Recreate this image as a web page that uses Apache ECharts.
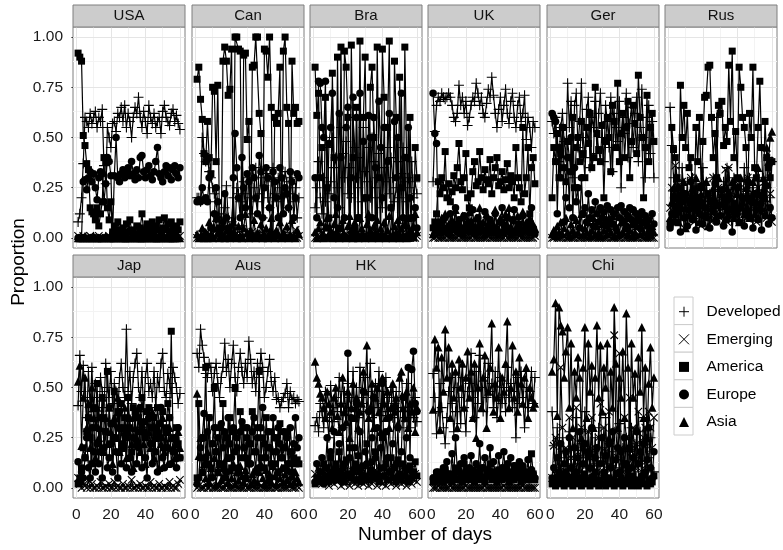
<!DOCTYPE html>
<html>
<head>
<meta charset="utf-8">
<script src="https://cdn.jsdelivr.net/npm/echarts@6/dist/echarts.min.js"></script>
<style>html,body{margin:0;padding:0;background:#fff}#chart{width:783px;height:550px}</style>
</head>
<body>
<div id="chart"></div>
<script>
// proportions in percent, day 1..60
const usaDev = [8,12,20,37,60,58,55,62,57,60,63,55,60,58,64,36,27,55,50,45,57,58,53,62,60,65,58,66,55,62,58,50,60,65,62,70,60,55,63,58,52,66,60,57,62,55,58,60,52,63,66,60,58,56,62,64,58,61,57,54];
const usaEme = [1,0,0,1,0,0,0,1,0,0,0,0,1,0,0,0,0,0,1,0,0,0,0,0,1,0,0,0,0,0,0,1,0,0,0,0,0,0,0,1,0,0,0,0,0,0,1,0,0,0,0,0,0,0,1,0,0,0,0,1];
const usaAme = [92,90,88,51,46,37,34,15,13,12,9,15,6,12,18,40,38,15,9,18,3,6,2,8,4,3,5,2,7,3,9,4,3,1,6,2,5,12,3,4,7,2,5,8,3,6,4,9,2,5,10,4,7,3,8,5,2,6,4,8];
const usaEur = [0,0,0,28,29,24,30,33,28,32,25,19,30,33,32,18,27,40,38,31,2,31,50,30,28,32,34,30,33,35,31,38,32,29,34,30,40,41,33,30,34,36,31,29,33,38,45,32,30,28,33,36,31,35,29,34,36,32,30,35];
const usaAsi = [0,0,0,0,1,0,0,0,0,1,0,0,0,0,0,0,1,0,0,0,0,0,0,1,0,0,0,0,0,0,0,0,1,0,0,0,0,0,0,0,0,1,0,0,0,0,0,0,0,0,1,0,0,0,0,0,0,0,1,0];

const canDev = [20,20,18,50,42,38,40,33,30,25,22,18,10,8,12,6,15,26,10,5,8,20,3,25,22,18,6,28,22,15,30,20,12,25,35,18,22,30,10,26,32,20,15,28,35,22,18,30,25,12,20,33,28,15,22,30,18,25,10,20];
const canEme = [0,1,0,2,0,0,3,0,1,0,0,0,2,0,0,1,0,0,0,4,0,1,0,0,0,2,0,0,1,0,0,0,3,0,0,1,0,0,2,0,0,0,1,0,3,0,0,0,1,0,0,2,0,0,0,1,0,4,0,1];
const canAme = [79,85,69,59,42,38,58,40,32,75,73,38,76,5,0,88,95,88,71,74,94,0,100,100,94,93,0,91,92,49,58,0,85,86,100,100,62,52,0,94,93,80,100,65,0,60,57,62,85,0,93,100,65,57,0,88,62,65,57,58];
const canEur = [18,19,18,25,19,20,18,30,5,0,12,25,18,3,0,8,22,10,5,2,0,30,52,35,20,10,40,25,15,32,28,0,35,30,20,12,41,33,10,25,35,30,15,0,33,28,20,10,35,30,12,25,22,15,33,28,10,20,32,30];
const canAsi = [2,0,1,5,0,3,0,8,2,0,5,10,3,0,2,6,0,4,1,0,3,8,2,0,6,1,0,5,12,3,0,4,2,9,0,3,1,7,0,2,5,0,3,10,1,0,4,2,8,0,3,1,6,0,2,9,1,0,4,2];

const braDev = [15,25,38,20,12,30,18,45,22,28,50,35,40,25,15,55,42,30,48,22,35,20,60,45,30,25,40,18,55,33,28,45,20,50,38,25,30,42,20,15,35,28,45,22,40,30,18,25,38,20,32,45,28,18,30,25,38,20,28,22];
const braEme = [0,1,0,0,2,0,0,1,0,0,0,3,0,0,1,0,0,0,2,0,0,1,0,0,0,0,2,0,1,0,0,0,0,3,0,0,1,0,0,0,2,0,0,0,1,0,0,0,0,2,0,1,0,0,0,0,3,0,0,1];
const braAme = [85,61,72,30,45,0,70,25,10,0,82,40,0,90,5,95,0,93,85,60,0,96,40,0,65,10,98,0,60,90,20,0,75,85,50,0,95,30,0,94,70,0,55,98,15,0,88,60,0,80,25,0,95,40,0,60,10,0,45,30];
const braEur = [30,10,78,77,55,50,78,5,47,55,72,20,0,15,62,40,0,10,55,65,0,30,70,5,60,10,72,0,48,20,0,61,50,10,60,35,0,68,45,20,55,0,38,62,15,0,58,30,50,0,72,10,40,0,55,20,0,10,15,5];
const braAsi = [3,0,5,8,2,0,6,10,1,4,0,7,12,3,0,5,9,2,0,6,11,4,0,8,3,0,10,5,2,0,7,12,4,0,6,3,9,0,5,2,8,0,4,11,1,0,6,3,9,0,5,2,7,0,10,4,1,6,12,3];

const ukDev = [28,53,66,70,68,72,70,69,70,72,70,66,60,58,62,76,66,70,62,68,56,60,66,70,68,77,72,66,70,62,60,67,74,70,80,71,62,55,64,70,58,66,74,62,57,68,72,60,55,66,70,58,62,71,49,60,55,45,58,55];
const ukEme = [0,0,1,0,0,0,0,0,1,0,0,0,0,0,0,1,0,0,0,0,0,0,0,1,0,0,0,0,0,0,0,0,1,0,0,0,0,0,0,0,0,0,1,0,0,0,0,0,0,0,1,0,0,0,0,0,0,0,0,1];
const ukAme = [5,8,12,28,22,30,25,43,20,27,18,23,31,25,35,47,28,24,30,42,20,15,22,33,38,26,28,43,30,24,34,29,27,39,22,30,35,40,26,28,33,24,29,37,25,31,28,20,45,30,25,18,55,22,30,45,12,35,40,27];
const ukEur = [72,52,47,6,4,8,3,10,5,2,12,4,7,15,3,9,5,2,11,4,6,3,8,14,2,5,10,3,7,4,13,2,6,9,3,5,12,4,2,8,15,3,6,10,4,2,9,14,3,5,7,2,11,4,6,3,8,15,5,2];
const ukAsi = [2,4,6,8,3,10,5,12,4,7,3,9,6,14,5,8,3,11,6,4,9,13,5,7,3,10,6,15,4,8,2,12,5,9,3,7,14,6,4,10,3,8,12,5,15,6,4,9,3,11,7,5,13,4,8,6,10,3,7,5];

const gerDev = [58,52,60,45,38,55,62,48,40,77,55,68,30,66,72,45,58,77,50,40,64,70,35,60,55,68,42,62,72,50,38,66,58,45,70,33,62,55,48,68,25,60,52,72,40,57,65,45,62,70,38,55,74,50,30,60,66,42,58,30];
const gerEme = [0,0,1,0,0,0,0,1,0,0,0,0,0,0,1,0,0,0,0,0,0,0,1,0,0,0,0,0,0,0,0,0,0,1,0,0,0,0,0,0,0,1,0,0,0,0,0,0,0,0,0,1,0,0,0,0,0,0,0,0];
const gerAme = [20,45,38,52,30,42,55,35,28,48,40,33,60,25,45,50,38,58,42,30,55,47,62,35,40,75,52,44,38,56,20,48,60,50,33,66,58,45,77,38,52,62,40,55,68,30,48,66,57,42,81,60,50,20,45,71,38,55,62,48];
const gerEur = [62,60,58,12,45,30,55,8,20,40,15,50,10,35,18,25,5,30,12,15,8,22,10,14,6,18,12,8,15,10,13,6,16,9,14,7,12,5,15,10,16,8,13,6,11,15,9,14,7,12,10,5,13,8,11,6,9,4,12,7];
const gerAsi = [2,4,1,6,3,8,2,5,10,3,1,7,4,2,9,3,6,12,2,5,3,8,1,4,10,2,6,3,1,7,4,9,2,5,3,11,1,6,4,2,8,3,5,10,2,4,7,1,3,6,9,2,5,3,8,1,4,2,6,3];

const rusDev = [65,46,30,22,18,25,12,35,20,15,28,10,22,30,18,12,25,8,20,35,15,28,12,22,18,30,10,60,25,15,20,28,12,35,18,22,10,30,25,15,28,20,12,35,22,18,30,10,25,20,15,28,12,22,30,18,25,40,20,38];
const rusEme = [15,25,10,36,8,20,12,28,5,18,22,10,30,15,8,25,12,20,6,18,28,10,15,22,8,30,12,18,25,10,20,15,34,8,35,22,12,18,28,10,15,25,8,20,12,30,18,10,22,15,8,25,20,12,18,28,10,15,22,8];
const rusAme = [7,55,44,40,30,20,76,50,66,45,62,35,40,20,15,55,38,60,25,48,70,71,85,86,60,40,52,30,66,62,68,46,55,48,86,58,93,40,53,30,85,75,60,55,45,20,62,50,85,35,30,55,78,45,20,58,40,35,30,38];
const rusEur = [5,12,20,8,15,25,3,18,10,22,6,14,28,9,17,4,20,12,26,7,15,10,22,5,18,13,27,8,16,11,24,6,19,9,21,14,3,17,12,25,8,15,20,6,13,28,10,18,5,22,14,9,17,4,20,11,26,7,15,10];
const rusAsi = [10,18,25,12,30,8,22,15,28,5,20,12,18,25,10,30,15,8,22,18,12,28,6,20,15,25,10,18,30,12,22,8,16,25,12,20,28,10,15,22,8,30,18,12,25,15,10,20,28,12,18,35,22,15,30,20,45,38,50,53];

const japDev = [41,66,48,61,45,35,58,40,60,38,52,45,35,55,48,40,62,50,45,58,42,52,48,36,55,62,50,45,79,48,58,42,55,62,67,50,45,58,38,55,62,48,52,45,58,40,55,50,62,67,48,45,57,52,47,60,55,50,42,47];
const japEme = [5,2,0,3,1,0,4,0,2,0,0,1,0,3,0,0,1,0,2,0,0,3,0,1,0,0,2,0,0,1,0,4,0,0,1,0,2,0,0,1,0,0,3,0,1,0,0,2,0,0,1,0,0,3,0,1,0,0,2,4];
const japAme = [2,5,10,20,15,28,35,25,12,40,30,52,22,18,45,35,28,58,40,22,32,48,25,38,30,42,20,35,25,45,30,18,40,38,22,35,28,45,33,25,38,40,30,22,35,28,40,32,25,38,20,30,42,35,78,25,18,30,22,15];
const japEur = [13,3,8,5,15,25,10,5,30,18,8,22,12,35,5,20,28,10,15,32,8,25,18,5,38,12,22,30,10,45,15,8,25,35,12,20,40,10,28,15,5,35,22,12,30,18,8,25,40,15,10,28,20,35,12,18,25,10,30,15];
const japAsi = [53,61,21,45,55,30,42,20,50,35,15,40,25,30,45,18,35,22,40,28,12,35,25,45,18,30,20,40,15,28,35,22,10,30,25,40,18,32,22,12,35,28,20,38,15,25,30,10,22,35,18,28,12,30,25,20,15,22,28,20];

const ausDev = [67,60,79,71,65,57,55,62,60,48,57,62,52,45,55,60,72,58,64,50,62,71,55,48,60,67,58,52,62,55,73,64,52,58,48,62,55,67,60,45,50,58,64,53,48,55,44,45,40,43,45,47,52,40,48,44,45,42,44,43];
const ausEme = [0,1,0,0,0,2,0,0,1,0,0,0,0,1,0,0,0,2,0,0,0,0,1,0,0,0,0,0,1,0,0,0,2,0,0,0,0,1,0,0,0,0,0,0,1,0,0,0,2,0,0,0,0,5,1,0,0,0,1,0];
const ausAme = [5,42,15,8,25,60,12,35,5,22,50,18,8,30,12,42,5,25,15,35,10,28,50,20,8,38,15,30,5,25,12,22,38,18,8,30,58,15,25,10,35,20,5,28,18,12,25,8,32,15,20,10,28,12,18,8,15,12,14,12];
const ausEur = [2,5,20,25,37,15,28,35,10,22,30,18,25,12,32,20,28,8,35,22,15,30,18,25,10,28,33,20,15,30,22,12,28,35,18,25,10,30,40,22,15,28,20,12,35,25,18,30,22,15,28,20,25,12,30,18,22,35,20,25];
const ausAsi = [47,16,25,8,12,5,18,3,10,6,15,2,8,12,4,10,6,15,3,9,5,12,2,8,4,11,6,3,9,5,14,2,7,4,10,3,8,12,5,2,9,4,7,3,11,6,2,8,5,10,3,7,4,9,2,6,3,8,5,3];

const hkDev = [31,35,28,42,38,30,48,35,25,51,40,33,45,38,55,42,30,48,36,52,45,40,58,38,50,35,60,45,42,55,38,48,62,35,45,52,40,58,36,48,42,55,38,45,50,35,42,48,38,30,45,40,35,52,38,30,42,35,45,33];
const hkEme = [7,4,10,5,2,8,3,6,1,9,4,2,7,3,5,1,8,2,4,6,1,3,8,2,5,1,4,7,2,3,6,1,8,2,4,9,1,5,3,2,7,1,4,10,2,5,3,1,8,4,2,6,3,1,5,9,2,4,7,3];
const hkAme = [2,5,3,8,4,12,6,10,3,15,5,8,12,4,18,6,10,3,14,7,20,5,9,12,4,16,8,3,11,6,22,4,9,13,5,18,7,3,10,25,6,12,4,8,15,5,10,3,14,7,4,12,6,9,3,11,5,8,13,6];
const hkEur = [3,12,5,8,15,2,10,25,6,18,4,28,10,5,22,8,30,12,6,67,15,35,8,20,42,10,28,5,48,18,12,38,8,25,45,15,30,6,20,52,10,28,15,35,8,22,40,12,30,5,18,45,10,25,60,15,59,68,42,38];
const hkAsi = [63,55,52,47,45,40,35,48,42,38,30,45,50,36,28,42,55,38,33,48,25,40,52,35,45,30,38,42,58,48,71,35,40,52,30,45,50,38,28,55,42,35,48,30,40,52,38,45,32,55,58,40,35,48,30,42,38,50,28,40];

const indDev = [57,45,27,38,52,40,30,22,35,48,55,42,28,38,50,45,32,55,40,28,48,52,67,45,35,58,42,66,50,38,55,45,62,48,52,40,58,35,45,55,42,50,38,60,45,52,40,48,25,55,42,58,45,30,50,40,48,58,42,55];
const indEme = [0,0,0,1,0,0,0,0,0,0,1,0,0,0,0,0,0,0,0,1,0,0,0,0,0,0,0,0,0,0,1,0,0,0,0,0,0,0,0,0,0,1,0,0,0,0,0,0,0,0,0,0,1,0,0,0,0,0,0,0];
const indAme = [3,5,7,4,8,6,3,9,5,4,7,3,6,10,4,8,5,3,12,6,4,7,5,9,3,6,8,4,10,5,3,7,6,12,4,8,5,3,9,6,4,7,10,5,3,8,6,4,11,5,7,3,9,6,4,8,5,17,7,4];
const indEur = [5,3,8,4,6,3,10,5,13,7,4,17,6,25,9,4,12,6,15,8,5,10,16,7,4,12,8,22,5,10,15,6,9,20,5,13,8,4,16,7,10,18,5,12,8,15,4,11,7,9,13,5,11,8,6,14,4,9,7,5];
const indAsi = [39,74,60,70,29,65,48,79,55,70,35,62,45,58,30,64,50,62,40,55,68,45,58,35,62,25,50,72,40,55,66,30,48,60,82,38,52,45,70,35,55,48,62,83,40,50,71,45,58,38,65,52,42,55,60,35,50,45,40,42];

const chiDev = [38,21,10,30,15,8,25,18,5,12,28,15,8,20,35,12,5,22,15,38,10,28,8,18,12,25,5,30,15,20,8,35,12,22,5,18,28,10,15,32,8,20,12,25,5,18,30,10,22,15,8,28,12,35,20,10,15,25,5,8];
const chiEme = [5,21,25,15,8,60,30,12,20,5,35,15,25,10,40,18,8,30,12,22,5,28,15,35,10,20,8,25,42,12,30,18,5,38,22,10,76,28,15,67,20,8,35,25,12,45,18,30,10,22,38,15,8,25,30,12,38,30,20,35];
const chiAme = [2,4,1,3,6,2,5,1,8,3,2,4,1,6,3,2,5,1,4,7,2,3,1,5,2,8,3,1,4,2,6,1,3,5,2,4,1,7,3,2,5,1,4,2,9,3,1,6,2,4,1,3,5,2,7,1,4,2,3,6];
const chiEur = [5,10,3,15,8,22,4,12,18,6,25,10,3,20,8,15,28,5,12,22,4,18,10,30,6,15,20,3,12,25,8,16,5,22,10,28,4,14,20,8,18,3,25,12,6,20,10,15,4,28,12,18,6,22,8,14,30,10,5,18];
const chiAsi = [58,64,92,36,90,81,78,55,68,80,40,72,30,58,45,65,55,25,60,80,35,72,48,61,30,55,81,45,71,38,60,50,72,25,58,40,90,62,30,55,45,68,35,87,60,20,72,45,57,30,65,48,80,35,60,25,52,70,40,55];

const countries = ['USA', 'Can', 'Bra', 'UK', 'Ger', 'Rus', 'Jap', 'Aus', 'HK', 'Ind', 'Chi'];
const groups = ['Developed', 'Emerging', 'America', 'Europe', 'Asia'];
const panelData = [
    [usaDev, usaEme, usaAme, usaEur, usaAsi],
    [canDev, canEme, canAme, canEur, canAsi],
    [braDev, braEme, braAme, braEur, braAsi],
    [ukDev, ukEme, ukAme, ukEur, ukAsi],
    [gerDev, gerEme, gerAme, gerEur, gerAsi],
    [rusDev, rusEme, rusAme, rusEur, rusAsi],
    [japDev, japEme, japAme, japEur, japAsi],
    [ausDev, ausEme, ausAme, ausEur, ausAsi],
    [hkDev, hkEme, hkAme, hkEur, hkAsi],
    [indDev, indEme, indAme, indEur, indAsi],
    [chiDev, chiEme, chiAme, chiEur, chiAsi]
];

const yTicks = [0, 0.25, 0.5, 0.75, 1];
const yMinor = [0.125, 0.375, 0.625, 0.875];
const xTicks = [0, 20, 40, 60];
const xMinor = [10, 30, 50];

const FONT = 'Liberation Sans, Arial, Helvetica, sans-serif';
const PLUS = 'path://M0,5L10,5M5,0L5,10';
const CROSS = 'path://M0,0L10,10M10,0L0,10';
const symbols = [PLUS, CROSS, 'rect', 'circle', 'triangle'];
const symSize = [10, 7.5, 7, 7.5, 8.5];

const lefts = [73, 192, 310, 428, 547, 665];
const tops = [27, 277];
const PW = 112, PH = 221;

const chart = echarts.init(document.getElementById('chart'), null, {renderer: 'canvas'});

const grids = [], xAxes = [], yAxes = [], series = [], graphics = [];

countries.forEach((name, p) => {
    const row = p < 6 ? 0 : 1;
    const col = p < 6 ? p : p - 6;
    const left = lefts[col], top = tops[row];

    grids.push({left: left, top: top, width: PW, height: PH, show: true,
        backgroundColor: '#fff', borderColor: '#7f7f7f', borderWidth: 1});

    xAxes.push({type: 'value', gridIndex: p, min: -1.95, max: 62.95,
        axisLine: {show: false},
        axisTick: {show: row === 1, customValues: xTicks, length: 5, lineStyle: {color: '#333'}},
        axisLabel: {show: row === 1, customValues: xTicks, margin: 9, fontSize: 15.5, color: '#1a1a1a', fontFamily: FONT},
        splitLine: {show: false}
    });
    yAxes.push({type: 'value', gridIndex: p, min: -0.05, max: 1.05,
        axisLine: {show: false},
        axisTick: {show: col === 0, customValues: yTicks, length: 5, lineStyle: {color: '#333'}},
        axisLabel: {show: col === 0, customValues: yTicks, margin: 10, fontSize: 15.5, color: '#1a1a1a', fontFamily: FONT,
            formatter: v => v.toFixed(2)},
        splitLine: {show: false}
    });

    // background grid lines, drawn through the axes
    const gl = [];
    yMinor.forEach(v => gl.push({yAxis: v, lineStyle: {color: '#f3f3f3', width: 1}}));
    xMinor.forEach(v => gl.push({xAxis: v, lineStyle: {color: '#f3f3f3', width: 1}}));
    yTicks.forEach(v => gl.push({yAxis: v, lineStyle: {color: '#e5e5e5', width: 1}}));
    xTicks.forEach(v => gl.push({xAxis: v, lineStyle: {color: '#e5e5e5', width: 1}}));
    series.push({type: 'line', name: '_grid' + p, xAxisIndex: p, yAxisIndex: p, data: [], silent: true, z: 1,
        markLine: {silent: true, symbol: ['none', 'none'], label: {show: false}, animation: false, z: 1,
            lineStyle: {type: 'solid'}, emphasis: {disabled: true}, data: gl}});

    groups.forEach((g, k) => {
        const pts = panelData[p][k].map((v, i) => [i + 1, v / 100]);
        const stroked = k < 2;
        series.push({type: 'scatter', name: g, xAxisIndex: p, yAxisIndex: p, data: pts, z: 3 + k,
            symbol: symbols[k], symbolSize: symSize[k], silent: true, animation: false,
            itemStyle: {color: '#000', borderColor: '#000', borderWidth: stroked ? 1.1 : 0, opacity: 1}});
        series.push({type: 'line', name: g, xAxisIndex: p, yAxisIndex: p, data: pts, z: 2,
            showSymbol: false, symbol: 'none', silent: true, animation: false,
            lineStyle: {color: '#000', width: 1.2}});
    });

    // strip
    graphics.push({type: 'rect', z: 10, shape: {x: left, y: top - 22, width: PW, height: 22},
        style: {fill: '#cccccc', stroke: '#7f7f7f', lineWidth: 1}});
    graphics.push({type: 'text', z: 11, x: left + PW / 2, y: top - 11,
        style: {text: name, x: 0, y: 0, align: 'center', verticalAlign: 'middle',
            font: 'normal 400 15px ' + FONT, fill: '#111', stroke: null, lineWidth: 0}});
});

// legend key boxes
for (let k = 0; k < groups.length; k++) {
    graphics.push({type: 'rect', shape: {x: 674, y: 297 + 27.6 * k, width: 19, height: 27.6},
        style: {fill: '#fff', stroke: '#cccccc', lineWidth: 1}});
}

graphics.push({type: 'text', style: {text: 'Number of days', x: 425, y: 535, align: 'center',
    verticalAlign: 'middle', fontSize: 19, fontFamily: FONT, fontWeight: 'normal', fill: '#000'}});
graphics.push({type: 'text', rotation: Math.PI / 2, x: 19, y: 262, style: {text: 'Proportion', x: 0, y: 0,
    align: 'center', verticalAlign: 'middle', fontSize: 19, fontFamily: FONT, fontWeight: 'normal', fill: '#000'}});

const option = {
    animation: false,
    backgroundColor: '#fff',
    grid: grids,
    xAxis: xAxes,
    yAxis: yAxes,
    legend: {
        orient: 'vertical', left: 678.5, top: 302.7, padding: 0, itemWidth: 10, itemHeight: 10, itemGap: 9.6,
        selectedMode: false,
        textStyle: {fontSize: 15.5, color: '#000', fontFamily: FONT, lineHeight: 18, padding: [0, 0, 0, 12.5]},
        data: groups.map((g, k) => ({
            name: g, icon: symbols[k],
            itemStyle: {color: '#000', borderColor: '#000', borderWidth: k < 2 ? 1 : 0}
        }))
    },
    graphic: graphics,
    series: series
};

chart.setOption(option);
</script>
</body>
</html>
